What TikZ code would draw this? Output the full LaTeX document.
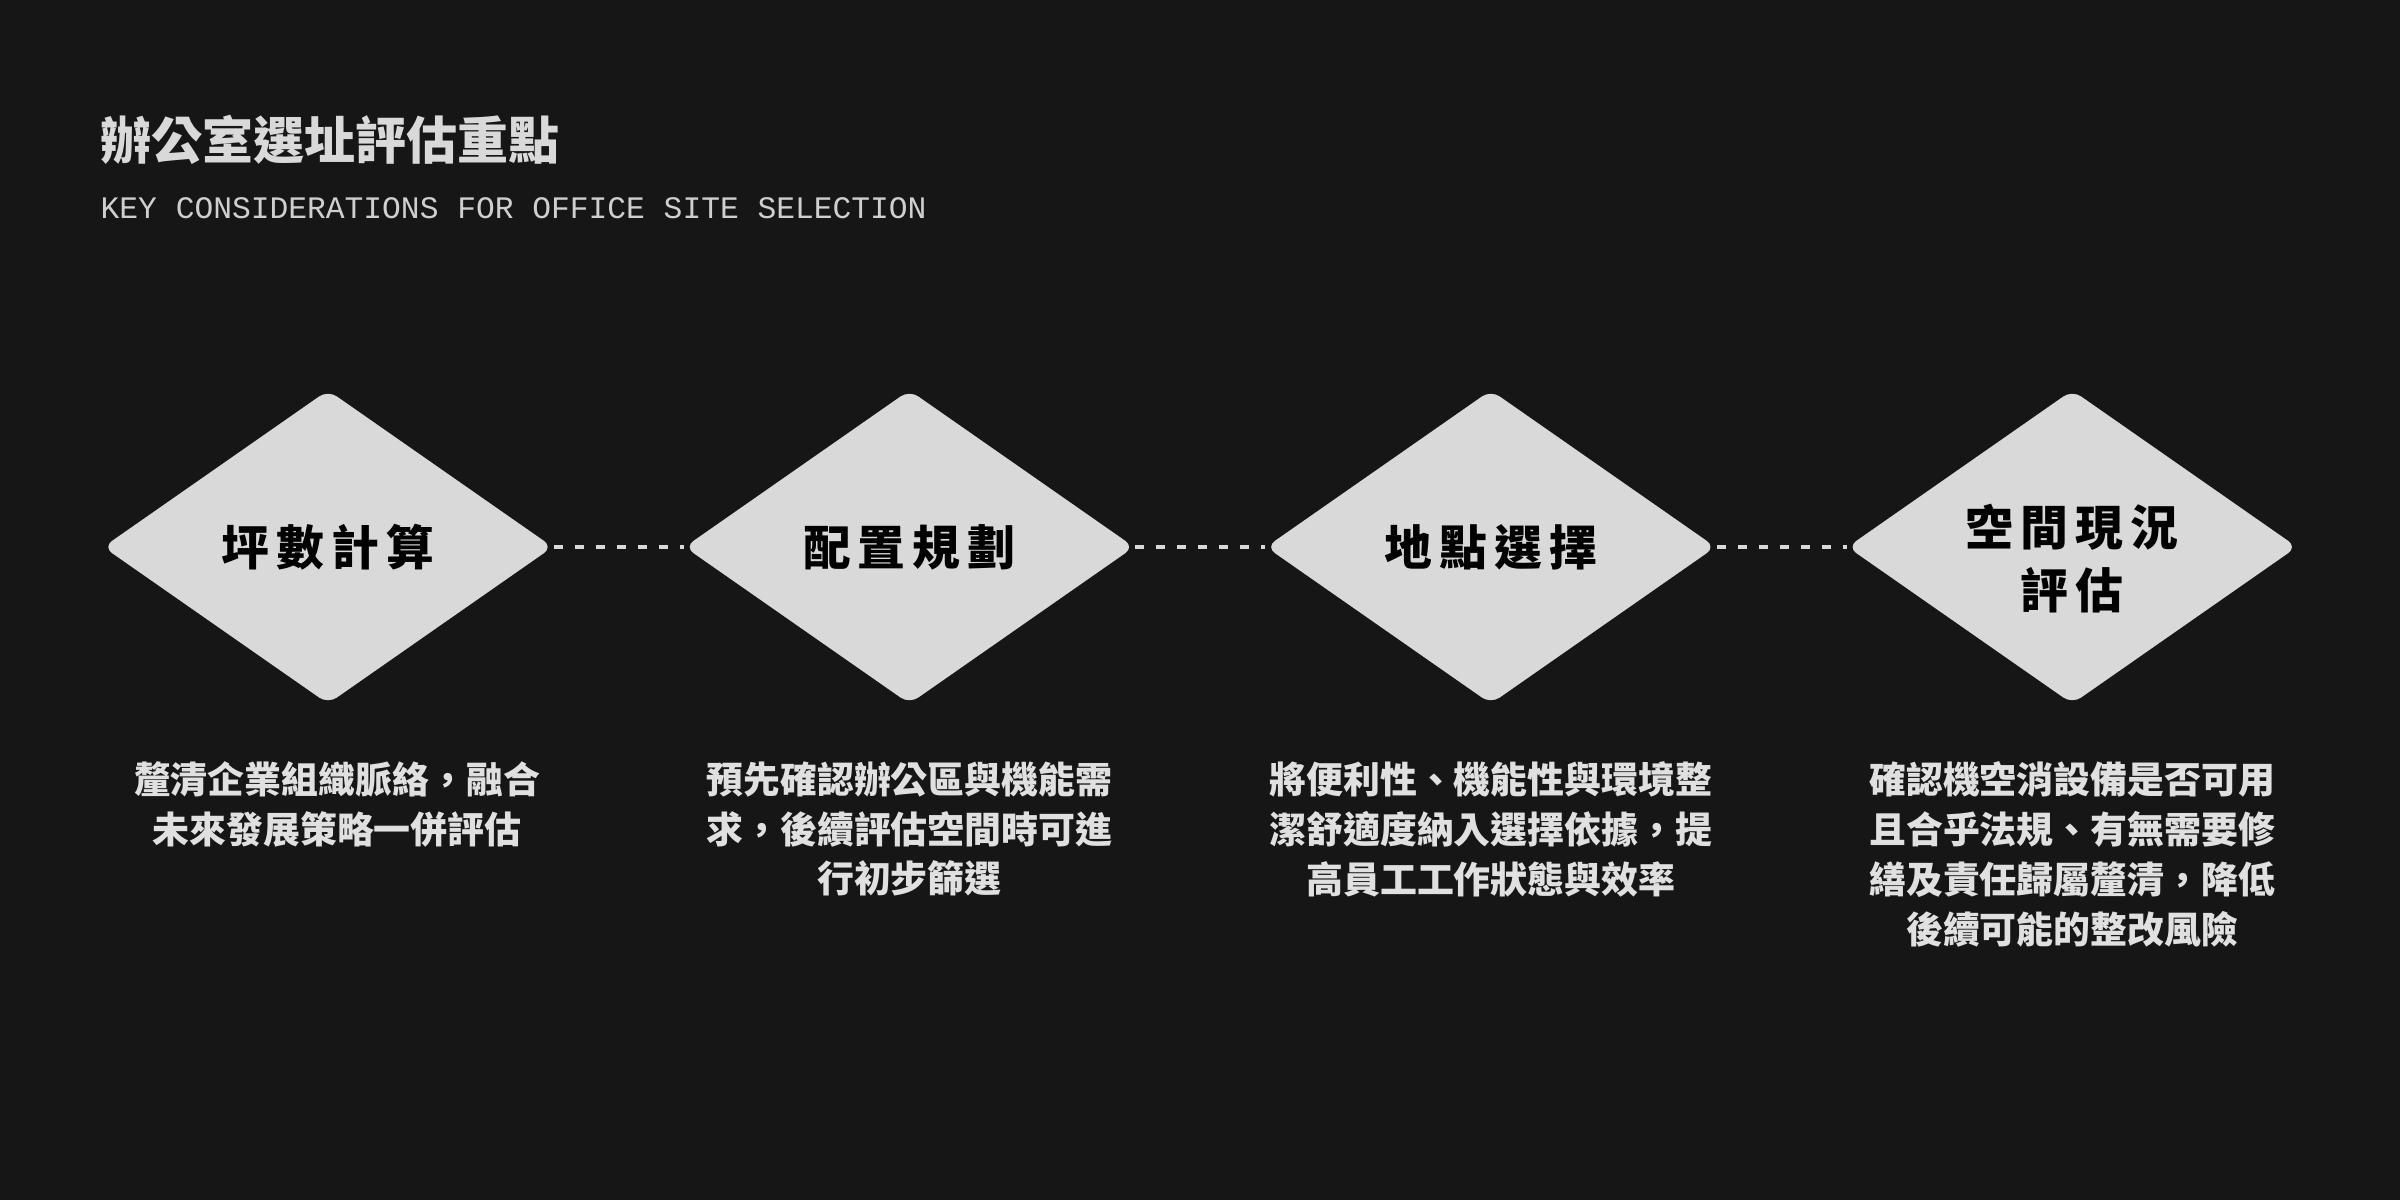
\documentclass[tikz,border=0pt]{standalone}
\usepackage{fontspec}
\setmainfont{Noto Sans CJK TC}
\newfontfamily\monofont{Liberation Mono}
\usepackage{tikz}
\usetikzlibrary{positioning,shapes.geometric}
\definecolor{bgdark}{HTML}{161616}
\definecolor{gemgray}{HTML}{D9D9D9}
\definecolor{subgray}{HTML}{CFCFCF}
\definecolor{desctext}{HTML}{E0E0E0}

\begin{document}
\begin{tikzpicture}[
  gem/.style={diamond, aspect=1.44, fill=gemgray, minimum width=4.5cm, minimum height=3.14cm,
    inner sep=0pt, rounded corners=3pt, align=center, text=black,
    font=\fontsize{13.6}{17.9}\selectfont\bfseries\addfontfeature{LetterSpace=15}},
  gemtext/.style={inner sep=0pt, align=center, text=black,
    font=\fontsize{13.6}{17.9}\selectfont\bfseries\addfontfeature{LetterSpace=15}},
  desc/.style={align=center, inner sep=0pt, text=desctext,
    font=\fontsize{10.5}{14.2}\selectfont\bfseries},
  dots/.style={draw=gemgray, line width=1.1pt, dash pattern=on 0.09cm off 0.12cm}
]
\fill[bgdark] (0,0) rectangle (24,12);
\node[anchor=base west, inner sep=0pt, text=gemgray, font=\fontsize{14.5}{17}\selectfont\bfseries] (title) at (1.0,10.4) {辦公室選址評估重點};
\node[anchor=base west, inner sep=0pt, text=subgray, font=\fontsize{8.9}{11}\monofont] (subtitle) at (1.0,9.81) {KEY CONSIDERATIONS FOR OFFICE SITE SELECTION};

\node[gem] (area) at (3.28,6.53) {坪數計算};
\node[gem, right=1.3cm of area] (layout) {配置規劃};
\node[gem, right=1.3cm of layout] (site) {地點選擇};
\node[gem, right=1.3cm of site] (space) {};
\node[gemtext] (spacelabel) at ([yshift=-0.12cm]space.center) {空間現況\\評估};

\draw[dots] (area.east) -- (layout.west);
\draw[dots] (layout.east) -- (site.west);
\draw[dots] (site.east) -- (space.west);

\node[desc, below=0.56cm of area, xshift=0.09cm] (areatxt) {釐清企業組織脈絡，融合\\未來發展策略一併評估};
\node[desc, below=0.56cm of layout] (layouttxt) {預先確認辦公區與機能需\\求，後續評估空間時可進\\行初步篩選};
\node[desc, below=0.56cm of site] (sitetxt) {將便利性、機能性與環境整\\潔舒適度納入選擇依據，提\\高員工工作狀態與效率};
\node[desc, below=0.56cm of space] (spacetxt) {確認機空消設備是否可用\\且合乎法規、有無需要修\\繕及責任歸屬釐清，降低\\後續可能的整改風險};
\end{tikzpicture}
\end{document}
